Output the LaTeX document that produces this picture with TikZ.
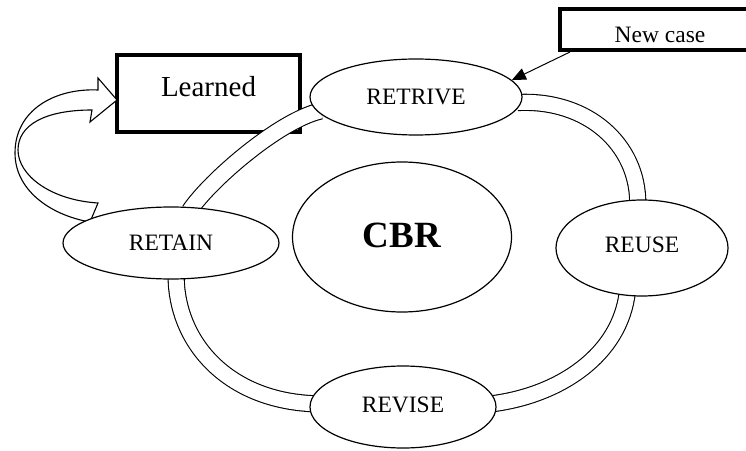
\documentclass[tikz,border=0pt]{standalone}
\usepackage{fontspec}
\setmainfont{Liberation Serif}
\usetikzlibrary{shapes.geometric,arrows.meta}
\pgfdeclarelayer{boxes}
\pgfdeclarelayer{bands}
\pgfsetlayers{boxes,bands,main}
\begin{document}
\begin{tikzpicture}[x=1pt,y=1pt,
  stage/.style={ellipse,draw,line width=1.2pt,fill=white,inner sep=0pt,
    font=\fontsize{23.5}{28}\selectfont},
  band/.style={draw=black,line width=1.1pt,double=white,double distance=15pt},
  thickbox/.style={rectangle,draw,line width=4pt,fill=white,inner sep=0pt}]
\useasboundingbox (0,0) rectangle (746,450);

% boxes
\begin{pgfonlayer}{boxes}
\node[thickbox,minimum width=183pt,minimum height=77pt,
  font=\fontsize{29}{34}\selectfont,text height=20pt,text depth=14pt]
  (learned) at (208.5,356.5) {Learned};
\end{pgfonlayer}
\node[thickbox,minimum width=200pt,minimum height=41pt,
  font=\fontsize{23.5}{28}\selectfont,text height=26pt,text depth=0pt]
  (newcase) at (660,420.5) {New case};

% curved block arrow feeding the learned box
\draw[line width=1.1pt,fill=white,line join=miter]
  (98,360) .. controls (55,362) and (15,340) .. (15,297)
  .. controls (15,260) and (50,235) .. (90,228)
  -- (98,247)
  .. controls (50,250) and (18,275) .. (18,300)
  .. controls (18,325) and (45,340) .. (92,340)
  -- (90,328) -- (117,350) -- (98,372) -- (98,360) -- cycle;

% stage ellipses
\node[stage,minimum width=212pt,minimum height=76pt] (retrive) at (416,353) {RETRIVE};
\node[stage,minimum width=216pt,minimum height=72pt] (retain) at (171,207) {RETAIN};
\node[stage,minimum width=172pt,minimum height=96pt,text depth=6pt] (reuse) at (642,202) {REUSE};
\node[stage,minimum width=186pt,minimum height=82pt,text depth=4pt] (revise) at (403,43) {REVISE};
\node[ellipse,draw,line width=1.2pt,inner sep=0pt,minimum width=219pt,minimum height=150pt,
  text depth=4pt,font=\fontsize{37}{44}\selectfont\bfseries] (cbr) at (402,213) {CBR};

% bands between stages, kept under the ellipses
\begin{pgfonlayer}{bands}
\draw[band] ([xshift=-4pt]retrive.-3) .. controls (588,351) and (638,305) .. ([yshift=-4pt]reuse.95);
\draw[band] ([yshift=4pt]reuse.253) .. controls (620,95) and (560,55) .. ([xshift=-4pt]revise.2);
\draw[band] ([yshift=4pt]retain.-82) .. controls (176,110) and (225,50) .. ([xshift=4pt]revise.178);
\draw[band] ([yshift=-4pt]retain.63) .. controls (210,270) and (280,330) .. ([xshift=4pt]retrive.188);
\end{pgfonlayer}

% incoming case
\draw[line width=1pt,-{Triangle[length=14pt,width=12pt]}]
  ([xshift=12pt]newcase.south west) -- (retrive.10);
\end{tikzpicture}
\end{document}
